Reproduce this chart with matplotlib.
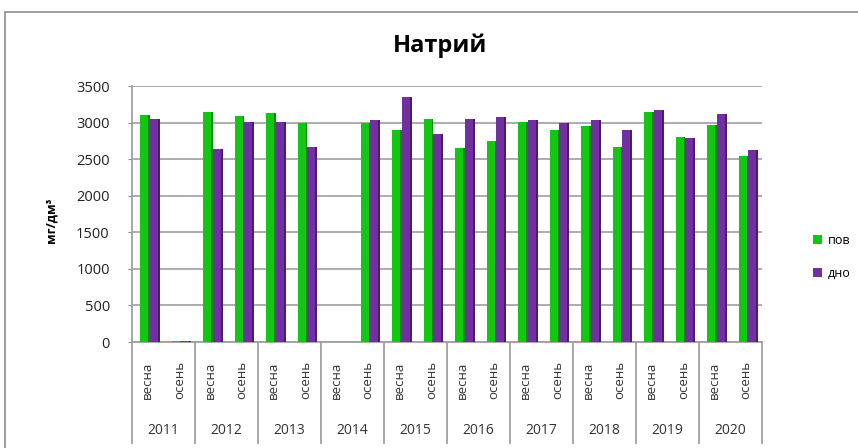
import matplotlib
matplotlib.use("Agg")
import matplotlib.pyplot as plt
from matplotlib.patches import Rectangle, Patch
import numpy as np

years = ["2011", "2012", "2013", "2014", "2015", "2016", "2017", "2018", "2019", "2020"]
seasons = ["весна", "осень"]
pov = [3110, 15, 3140, 3090, 3135, 3000, 0, 3000, 2900, 3045,
       2650, 2750, 3010, 2900, 2955, 2665, 3140, 2800, 2965, 2545]
dno = [3055, 15, 2640, 3010, 3005, 2660, 0, 3035, 3355, 2840,
       3045, 3070, 3035, 2990, 3035, 2900, 3175, 2790, 3120, 2620]
series_names = ["пов", "дно"]

FONT = ["Open Sans", "DejaVu Sans"]
plt.rcParams['font.family'] = FONT

W, H = 858, 448
fig = plt.figure(figsize=(W / 100, H / 100), dpi=100)

# outer chart border
fig.patches.append(Rectangle((5 / W, -0.05), 1.1, 1 - 12 / H + 0.05, transform=fig.transFigure,
                             fill=False, edgecolor="#8c8c8c", linewidth=1.2))

ax_l, ax_r, ax_t, ax_b = 132, 762, 86, 342
ax = fig.add_axes([ax_l / W, 1 - ax_b / H, (ax_r - ax_l) / W, (ax_b - ax_t) / H])

n = len(pov)
x = np.arange(n)
gw = 0.25
side = 0.06
green, green_side = "#13C613", "#0A8E0A"
purple, purple_side = "#7030A0", "#4A1C6E"
g_left = x - 0.24
p_left = x + 0.07
ax.bar(g_left, pov, width=gw, align="edge", color=green, zorder=3, linewidth=0)
ax.bar(g_left + gw, pov, width=side, align="edge", color=green_side, zorder=3, linewidth=0)
ax.bar(p_left, dno, width=gw, align="edge", color=purple, zorder=4, linewidth=0)
ax.bar(p_left + gw, dno, width=side, align="edge", color=purple_side, zorder=4, linewidth=0)

ax.set_xlim(-0.5, n - 0.5)
ax.set_ylim(0, 3500)
ax.set_yticks(np.arange(0, 3501, 500))
ax.tick_params(axis="y", labelsize=10.5, length=3, color="#8c8c8c", pad=13, labelcolor="#222222")
ax.set_xticks([])
ax.yaxis.grid(True, color="#a6a6a6", linewidth=1.3, zorder=0)
ax.set_axisbelow(True)
for s in ["top", "right"]:
    ax.spines[s].set_visible(False)
for s in ["left", "bottom"]:
    ax.spines[s].set_color("#a0a0a0")
    ax.spines[s].set_linewidth(1.3)

ax.set_ylabel("мг/дм³", fontsize=9, fontweight="bold")
ax.yaxis.set_label_coords((57 - ax_l) / (ax_r - ax_l), (342 - 220) / (ax_b - ax_t))

# category labels
trans = ax.get_xaxis_transform()
ah = ax_b - ax_t
for i in range(n):
    ax.text(x[i], -(380 - ax_b) / ah, seasons[i % 2], rotation=90, ha="center", va="center",
            fontsize=9.5, color="#333333", transform=trans, clip_on=False)
for j, yr in enumerate(years):
    ax.text(2 * j + 0.5, -(431 - ax_b) / ah, yr, ha="center", va="center",
            fontsize=10, color="#333333", transform=trans, clip_on=False)
for j in range(len(years) + 1):
    ax.plot([2 * j - 0.5, 2 * j - 0.5], [0, -(443 - ax_b) / ah], color="#a0a0a0",
            linewidth=1.3, transform=trans, clip_on=False)

fig.text(440 / W, 1 - 46 / H, "Натрий", ha="center", va="center", fontsize=17, fontweight="bold")

handles = [Patch(facecolor=green, edgecolor="none"), Patch(facecolor=purple, edgecolor="none")]
fig.legend(handles, series_names, loc="center left", bbox_to_anchor=(802 / W, 1 - 257 / H),
           frameon=False, fontsize=9, handlelength=0.7, handleheight=0.7, handletextpad=0.5,
           labelspacing=1.6)

fig.savefig("out.png", dpi=100)
